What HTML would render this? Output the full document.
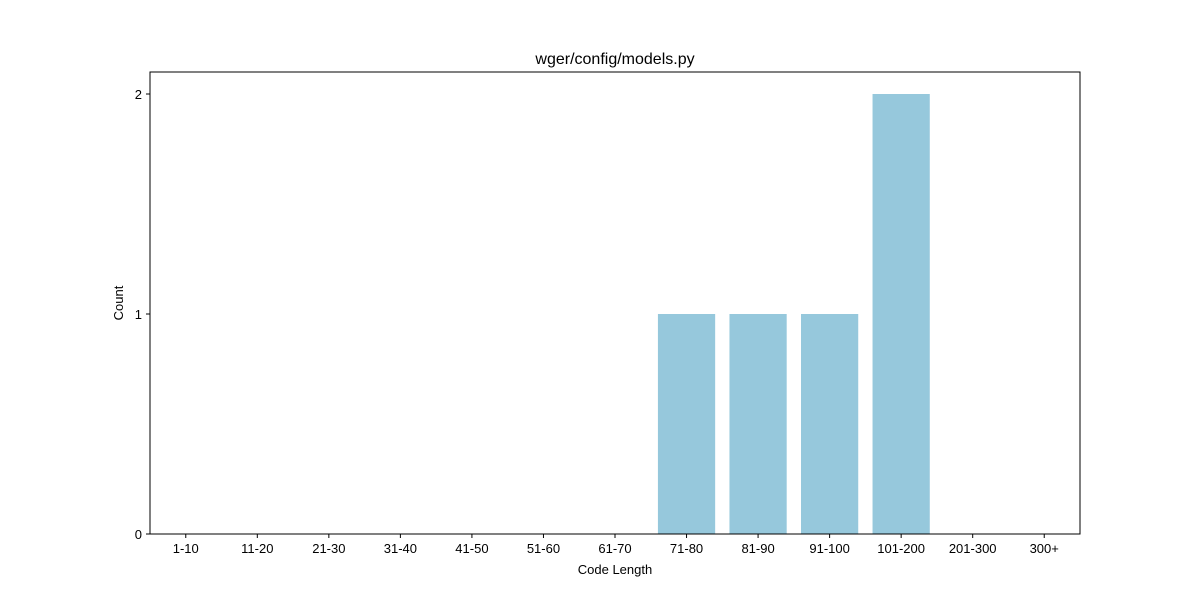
<!DOCTYPE html>
<html><head><meta charset="utf-8"><style>
body{margin:0;background:#fff;}
svg text{font-family:"Liberation Sans","DejaVu Sans",sans-serif;}
</style></head><body>
<svg id="chart" width="1200" height="600" xmlns="http://www.w3.org/2000/svg">
<rect x="0" y="0" width="1200" height="600" fill="#fff"/>
<text x="615" y="64" font-size="16" text-anchor="middle">wger/config/models.py</text>
<g id="bars"></g>
<rect x="150" y="72" width="930" height="462" fill="none" stroke="#000" stroke-width="1"/>
<g id="xticks"></g><g id="yticks"></g>
<text x="615" y="574" font-size="13" text-anchor="middle">Code Length</text>
<text x="123" y="303" font-size="13" text-anchor="middle" transform="rotate(-90 123 303)">Count</text>
</svg>
<script>
const categories=["1-10","11-20","21-30","31-40","41-50","51-60","61-70","71-80","81-90","91-100","101-200","201-300","300+"];
const counts=[0,0,0,0,0,0,0,1,1,1,2,0,0];
const yTicks=[0,1,2];
const L=150,R=1080,T=72,B=534,ymax=2.1;
const n=categories.length;
const xs=i=>L+(i+0.5)*(R-L)/n;
const ys=v=>B-v/ymax*(B-T);
const bw=0.8*(R-L)/n;
const NS="http://www.w3.org/2000/svg";
const bars=document.getElementById('bars'),xt=document.getElementById('xticks'),yt=document.getElementById('yticks');
categories.forEach((c,i)=>{
 if(counts[i]>0){
  const r=document.createElementNS(NS,'rect');
  r.setAttribute('x',xs(i)-bw/2);r.setAttribute('y',ys(counts[i]));
  r.setAttribute('width',bw);r.setAttribute('height',B-ys(counts[i]));
  r.setAttribute('fill','#96c8dc');
  
  
  bars.appendChild(r);
 }
 const l=document.createElementNS(NS,'line');
 l.setAttribute('x1',xs(i));l.setAttribute('x2',xs(i));l.setAttribute('y1',B);l.setAttribute('y2',B+4);l.setAttribute('stroke','#000');
 
 
 xt.appendChild(l);
 const t=document.createElementNS(NS,'text');
 t.setAttribute('x',xs(i));t.setAttribute('y',B+19);t.setAttribute('font-size','13');t.setAttribute('text-anchor','middle');t.textContent=c;
 
 
 xt.appendChild(t);
});
yTicks.forEach(v=>{
 const l=document.createElementNS(NS,'line');
 l.setAttribute('x1',L-4);l.setAttribute('x2',L);l.setAttribute('y1',ys(v));l.setAttribute('y2',ys(v));l.setAttribute('stroke','#000');
 
 
 yt.appendChild(l);
 const t=document.createElementNS(NS,'text');
 t.setAttribute('x',L-8);t.setAttribute('y',ys(v)+5);t.setAttribute('font-size','13');t.setAttribute('text-anchor','end');t.textContent=v;
 
 
 yt.appendChild(t);
});
</script>
</body></html>
